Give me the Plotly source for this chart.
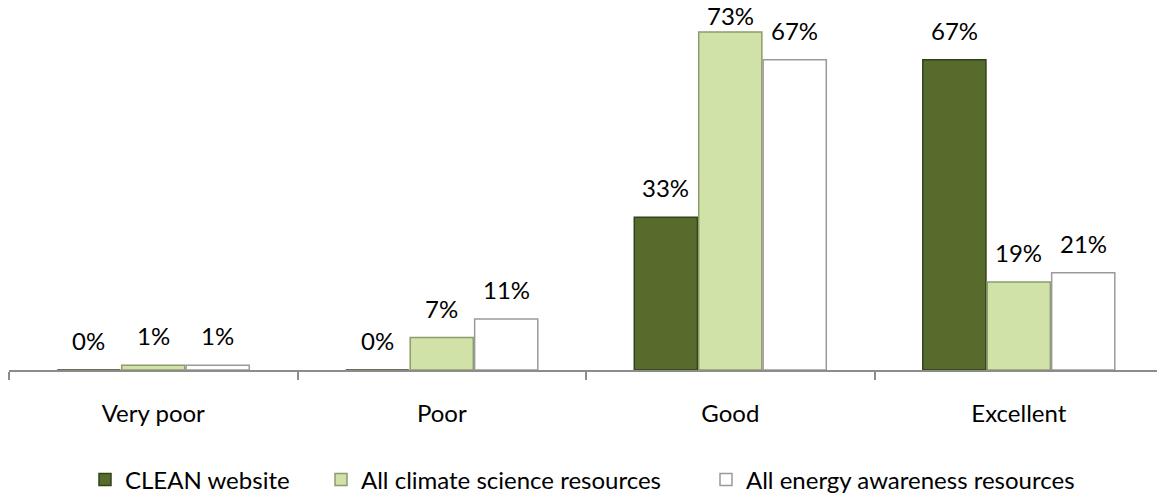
import plotly.graph_objects as go

categories = ["Very poor", "Poor", "Good", "Excellent"]
clean_website = [0, 0, 33, 67]
climate_science = [1, 7, 73, 19]
energy_awareness = [1, 11, 67, 21]
series_names = ["CLEAN website", "All climate science resources", "All energy awareness resources"]

FONT = "Lato, Calibri, Carlito, sans-serif"
BARGAP = 0.33
BARGROUPGAP = 0.02
Y_MAX = 77.75
PLOT_TOP = 10
PLOT_H = 360

fig = go.Figure()
styles = [
    dict(color="#566b2c", line=dict(color="#33421a", width=1.5)),
    dict(color="#d1e2a8", line=dict(color="#8c9c6c", width=1.5)),
    dict(color="#ffffff", line=dict(color="#9a9a9a", width=1.5)),
]
legend_widths = [191, 340, 345]
all_series = [clean_website, climate_science, energy_awareness]
for name, vals, st, lw in zip(series_names, all_series, styles, legend_widths):
    fig.add_trace(go.Bar(
        x=categories, y=vals, name=name,
        marker=st,
        legendwidth=lw,
        hoverinfo="skip",
    ))

# value labels placed over each bar via the category axis;
# like the source chart, a label that would leave the top of the figure is pulled down
slot = (1 - BARGAP) / len(all_series)
px_per_unit = PLOT_H / Y_MAX
for i, vals in enumerate(all_series):
    off = (i - (len(all_series) - 1) / 2) * slot
    for j, v in enumerate(vals):
        bar_top_px = PLOT_TOP + (Y_MAX - v) * px_per_unit
        shift = min(13, bar_top_px - 32)
        fig.add_annotation(
            x=j + off, y=v, xref="x", yref="y",
            text=f"{v}%", showarrow=False,
            yanchor="bottom", xanchor="center", yshift=shift,
            font=dict(family=FONT, size=24, color="#000000"),
        )

fig.update_layout(
    width=1157, height=494,
    margin=dict(l=9, r=0, t=PLOT_TOP, b=494 - PLOT_TOP - PLOT_H, autoexpand=False),
    paper_bgcolor="white", plot_bgcolor="white",
    barmode="group", bargap=BARGAP, bargroupgap=BARGROUPGAP,
    font=dict(family=FONT, size=24, color="#000000"),
    showlegend=True,
    legend=dict(orientation="h", x=(85 - 9) / 1148, xanchor="left", y=-0.3056, yanchor="middle",
                font=dict(family=FONT, size=24), itemwidth=30, traceorder="normal",
                bgcolor="rgba(0,0,0,0)"),
)
fig.update_xaxes(
    range=[-0.5, 3.479],
    showline=True, linecolor="#8c8c8c", linewidth=1.5,
    ticks="outside", tickson="boundaries", ticklen=8, tickcolor="#8c8c8c", tickwidth=1.5,
    ticklabelstandoff=21, automargin=False,
    tickfont=dict(family=FONT, size=24),
    showgrid=False, zeroline=False,
)
fig.update_yaxes(range=[0, Y_MAX], visible=False, showgrid=False, zeroline=False)

fig.write_html("out.html")
